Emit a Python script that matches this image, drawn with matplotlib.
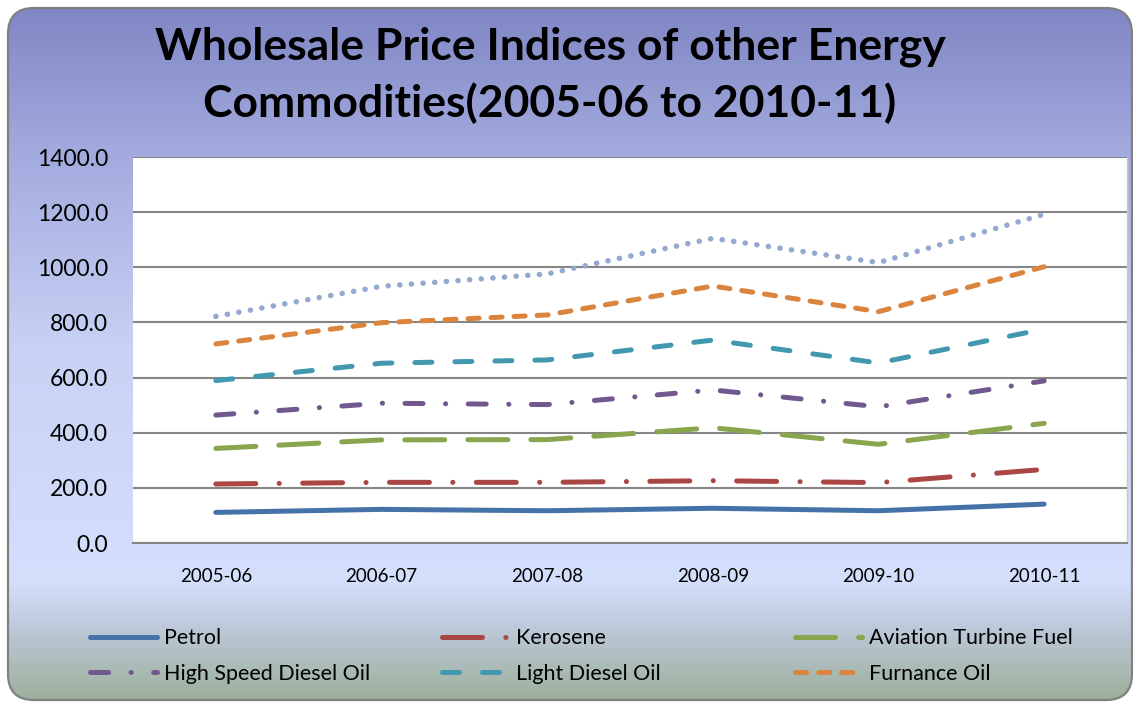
import numpy as np
import matplotlib.pyplot as plt
from matplotlib.patches import FancyBboxPatch
from matplotlib.colors import LinearSegmentedColormap

plt.rcParams['font.family'] = ['Lato', 'DejaVu Sans']
plt.rcParams['lines.scale_dashes'] = False

years = ['2005-06', '2006-07', '2007-08', '2008-09', '2009-10', '2010-11']

petrol = [111, 122, 117, 126, 117, 141]
kerosene = [214, 220, 220, 226, 219, 267]
atf = [343, 374, 375, 418, 358, 434]
hsd = [464, 507, 502, 555, 494, 588]
ldo = [589, 652, 664, 736, 653, 776]
furnance = [722, 799, 827, 932, 839, 1002]
# dotted series has no legend entry in the original
unlabelled = [822, 931, 976, 1105, 1017, 1192]

W, H = 1133, 702
fig = plt.figure(figsize=(W / 100, H / 100), dpi=100)

# rounded chart background with vertical gradient
bg = fig.add_axes([0, 0, 1, 1], zorder=-1)
bg.set_xlim(0, W)
bg.set_ylim(H, 0)
bg.axis('off')
box = FancyBboxPatch((8, 8), 1124, 692, boxstyle='round,pad=0,rounding_size=26',
                     facecolor='none', edgecolor='#808080', lw=1.6, zorder=3)
bg.add_patch(box)
stops = [(0.0, '#8087c5'), (0.22, '#a4acdf'), (0.5, '#c8d3f5'),
         (0.83, '#d4dffc'), (0.9, '#bcc8d8'), (1.0, '#9db09c')]
cmap = LinearSegmentedColormap.from_list('bg', stops)
grad = np.linspace(0, 1, 256).reshape(-1, 1)
im = bg.imshow(grad, cmap=cmap, aspect='auto', extent=(8, 1132, 700, 8), zorder=1)
im.set_clip_path(box)

# plot area
ax = fig.add_axes([133 / W, 1 - 543 / H, (1127 - 133) / W, (543 - 157) / H])
ax.set_facecolor('white')
x = np.arange(len(years))

lw = 3.6
series = [
    (petrol, 'Petrol', '#4572a7', None),
    (kerosene, 'Kerosene', '#aa4643', (0, (28.8, 16.8, 0.1, 16.8))),
    (atf, 'Aviation Turbine Fuel', '#89a54e', (0, (28.8, 16.6))),
    (hsd, 'High Speed Diesel Oil', '#71588f', (0, (13, 16.2, 0.1, 16.2))),
    (ldo, 'Light Diesel Oil', '#4198af', (0, (12.2, 16.6))),
    (furnance, 'Furnance Oil', '#db843d', (0, (8, 8.6))),
]
handles = {}
for vals, name, col, dash in series:
    if dash is None:
        ln, = ax.plot(x, vals, color=col, lw=lw, solid_capstyle='round',
                      solid_joinstyle='round', label=name, zorder=3)
    else:
        ln, = ax.plot(x, vals, color=col, lw=lw, linestyle=dash, dash_capstyle='round',
                      dash_joinstyle='round', label=name, zorder=3)
    handles[name] = ln
ax.plot(x, unlabelled, color='#93a9cf', lw=lw * 1.1, linestyle=(0, (0.1, 8.3)),
        dash_capstyle='round', zorder=3)

ax.set_xlim(-0.5, len(years) - 0.5)
ax.set_ylim(0, 1400)
ax.set_yticks(np.arange(0, 1401, 200))
ax.set_yticklabels(['%.1f' % v for v in np.arange(0, 1401, 200)], fontsize=16.5)
ax.set_xticks(x)
ax.set_xticklabels(years, fontsize=13.5)
ax.tick_params(length=0)
ax.tick_params(axis='y', pad=18)
ax.tick_params(axis='x', pad=18)
ax.yaxis.grid(True, color='#868686', lw=1.5)
ax.set_axisbelow(True)
for s in ['top', 'left']:
    ax.spines[s].set_visible(False)
ax.spines['bottom'].set_color('#868686')
ax.spines['bottom'].set_linewidth(1.5)
ax.spines['right'].set_color('#c8c8c8')
ax.spines['right'].set_linewidth(1.0)

fig.text(550 / W, 1 - 75 / H, 'Wholesale Price Indices of other Energy\nCommodities(2005-06 to 2010-11)',
         ha='center', va='center', fontsize=32, fontweight='bold', linespacing=1.45)

# legend in three columns, two rows each
cols = [['Petrol', 'High Speed Diesel Oil'],
        ['Kerosene', 'Light Diesel Oil'],
        ['Aviation Turbine Fuel', 'Furnance Oil']]
col_x = [90, 442, 795]
for names, cx in zip(cols, col_x):
    leg = fig.legend([handles[n] for n in names], names, loc='center left',
                     bbox_to_anchor=(cx / W, 1 - 656 / H), frameon=False, fontsize=15.5,
                     handlelength=3.1, handletextpad=0.35, borderpad=0, borderaxespad=0,
                     labelspacing=0.7)

fig.savefig('out.png', dpi=100)
